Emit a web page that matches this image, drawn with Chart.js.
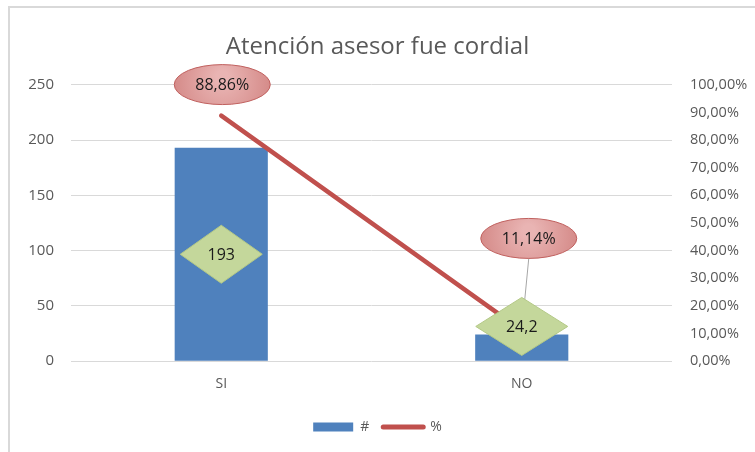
<!DOCTYPE html>
<html><head><meta charset="utf-8">
<script src="https://cdn.jsdelivr.net/npm/chart.js@4/dist/chart.umd.min.js"></script>
<style>
html,body{margin:0;padding:0;background:#fff;overflow:hidden}
#wrap{position:relative;width:755px;height:452px}
#frame{position:absolute;left:8px;top:6px;width:800px;height:500px;border-left:2px solid #d9d9d9;border-top:2px solid #d9d9d9;pointer-events:none}
</style></head><body>
<div id="wrap"><canvas id="c" width="755" height="452"></canvas><div id="frame"></div></div>
<script>
const categories = ["SI", "NO"];
const countValues = [193, 24.2];
const percentValues = [0.8886, 0.1114];
const countLabels = ["193", "24,2"];
const percentLabels = ["88,86%", "11,14%"];
const leftTicks = [0, 50, 100, 150, 200, 250];
const titleText = "Atención asesor fue cordial";

const FONT = "'Open Sans', sans-serif";
const GRAY = "#595959";

const labelPlugin = {
  id: 'excelLabels',
  afterDatasetsDraw(chart) {
    const ctx = chart.ctx;
    const barMeta = chart.getDatasetMeta(0);
    const lineMeta = chart.getDatasetMeta(1);
    ctx.save();
    const p1 = lineMeta.data[1];
    const e1 = {x: p1.x + 7, y: p1.y - 92};
    ctx.strokeStyle = '#a6a6a6'; ctx.lineWidth = 1;
    ctx.beginPath(); ctx.moveTo(e1.x, e1.y + 20); ctx.lineTo(p1.x, p1.y); ctx.stroke();
    barMeta.data.forEach((bar, i) => {
      let cx = bar.x, cy, w, h = 58;
      if (i === 0) { cy = (bar.y + bar.base) / 2; w = 82; }
      else { cy = bar.y - 8; w = 92; }
      ctx.beginPath();
      ctx.moveTo(cx, cy - h/2); ctx.lineTo(cx + w/2, cy); ctx.lineTo(cx, cy + h/2); ctx.lineTo(cx - w/2, cy); ctx.closePath();
      ctx.fillStyle = '#c4d79b'; ctx.fill();
      ctx.strokeStyle = '#b3c886'; ctx.lineWidth = 1; ctx.stroke();
      ctx.fillStyle = '#1a1a1a'; ctx.font = "16px " + FONT;
      ctx.textAlign = 'center'; ctx.textBaseline = 'middle';
      ctx.fillText(countLabels[i], cx, cy + 1);
    });
    lineMeta.data.forEach((pt, i) => {
      let cx, cy;
      if (i === 0) { cx = pt.x + 1; cy = pt.y - 31; }
      else { cx = pt.x + 7; cy = pt.y - 92; }
      const g = ctx.createRadialGradient(cx, cy - 8, 6, cx, cy, 52);
      g.addColorStop(0, '#e9b4b3'); g.addColorStop(1, '#d38785');
      ctx.beginPath(); ctx.ellipse(cx, cy, 48, 20, 0, 0, Math.PI * 2);
      ctx.fillStyle = g; ctx.fill();
      ctx.strokeStyle = '#c0605e'; ctx.lineWidth = 1; ctx.stroke();
      ctx.fillStyle = '#1a1a1a'; ctx.font = "16px " + FONT;
      ctx.textAlign = 'center'; ctx.textBaseline = 'middle';
      ctx.fillText(percentLabels[i], cx, cy + 1);
    });
    ctx.restore();
  }
};

new Chart(document.getElementById('c'), {
  data: {
    labels: categories,
    datasets: [
      { type: 'bar', label: '#', data: countValues, backgroundColor: '#4f81bd', yAxisID: 'y', order: 2,
        categoryPercentage: 1, barPercentage: 0.31 },
      { type: 'line', label: '%', data: percentValues, borderColor: '#c0504d', borderWidth: 4.5,
        pointRadius: 0, yAxisID: 'y1', order: 1, borderCapStyle: 'round' }
    ]
  },
  options: {
    responsive: false, animation: false,
    layout: { padding: { left: 0, right: 0, top: 0, bottom: 8 } },
    plugins: {
      title: { display: true, text: titleText, color: GRAY, font: { family: FONT, size: 24, weight: 'normal' },
        padding: { top: 33, bottom: 23 } },
      legend: { position: 'bottom',
        labels: { usePointStyle: true, pointStyleWidth: 40, boxHeight: 9, color: GRAY, font: { family: FONT, size: 14 }, padding: 14,
          generateLabels(chart) {
            return [
              { text: '#', fillStyle: '#4f81bd', strokeStyle: '#4f81bd', lineWidth: 0, pointStyle: 'rect', datasetIndex: 0, fontColor: GRAY },
              { text: '%', fillStyle: '#c0504d', strokeStyle: '#c0504d', lineWidth: 5, lineCap: 'round', pointStyle: 'line', datasetIndex: 1, fontColor: GRAY }
            ];
          } } },
      tooltip: { enabled: false }
    },
    scales: {
      x: { grid: { display: false, drawTicks: false }, border: { display: false },
        ticks: { color: GRAY, font: { family: FONT, size: 14 }, padding: 14 } },
      y: { position: 'left', min: 0, max: 250, afterBuildTicks(s) { s.ticks = leftTicks.map(v => ({value: v})); },
        grid: { color: '#d9d9d9', drawTicks: false }, border: { display: false },
        ticks: { color: GRAY, font: { family: FONT, size: 15 }, padding: 17 },
        afterFit(s) { s.width = 71; } },
      y1: { position: 'right', min: 0, max: 1,
        grid: { display: false, drawTicks: false }, border: { display: false },
        ticks: { stepSize: 0.1, color: GRAY, font: { family: FONT, size: 14.5 }, padding: 18,
          callback: v => (v * 100).toFixed(2).replace('.', ',') + '%' },
        afterFit(s) { s.width = 83; } }
    }
  },
  plugins: [labelPlugin]
});
</script>
</body></html>
